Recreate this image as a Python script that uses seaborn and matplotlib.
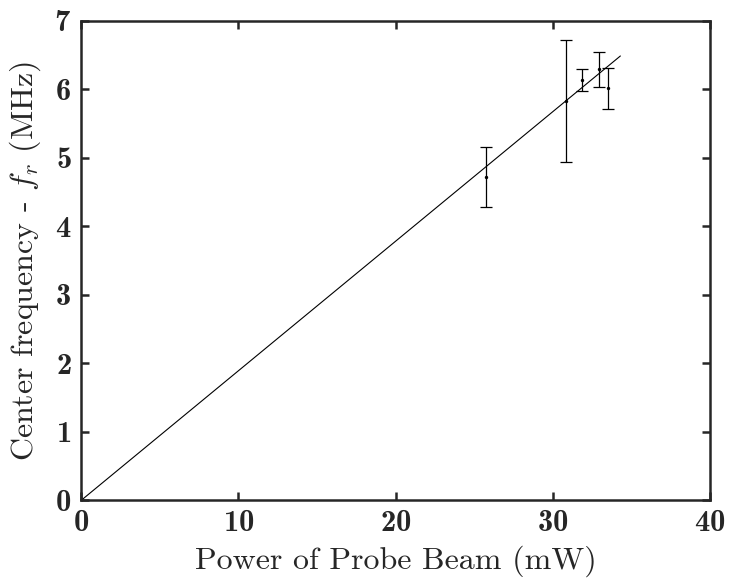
import numpy as np
import matplotlib
matplotlib.use("Agg")
import matplotlib.pyplot as plt
import seaborn as sns

# Measured center frequency vs probe power
power_mw = [25.76, 30.86, 31.88, 32.92, 33.51]
center_freq = [4.72, 5.82, 6.13, 6.29, 6.01]
freq_err = [0.435, 0.89, 0.16, 0.255, 0.30]

# Linear fit through the origin
fit_slope = 0.189
fit_x = [0.0, 34.3]

sns.set_style("ticks")
plt.rcParams["mathtext.fontset"] = "cm"
plt.rcParams["font.family"] = ["cmr10", "DejaVu Serif"]
plt.rcParams["axes.formatter.use_mathtext"] = True

fig = plt.figure(figsize=(7.3, 5.81), dpi=100)
ax = fig.add_axes([0.111, 0.1386, 0.8616, 0.8261])

fit_y = [fit_slope * x for x in fit_x]
sns.lineplot(x=fit_x, y=fit_y, ax=ax, color="black", linewidth=0.8)

ax.errorbar(power_mw, center_freq, yerr=freq_err, fmt="none",
            ecolor="black", elinewidth=0.9, capsize=4, capthick=0.9)
sns.scatterplot(x=power_mw, y=center_freq, ax=ax, color="black",
                s=6, edgecolor="black", linewidth=0, zorder=3)

ax.set_xlim(0, 40)
ax.set_ylim(0, 7)
ax.set_xticks([0, 10, 20, 30, 40])
ax.set_yticks(range(8))

ax.tick_params(direction="in", length=6, width=1.8, top=True, right=True,
               labelsize=22, pad=7)
for lbl in ax.get_xticklabels() + ax.get_yticklabels():
    lbl.set_family("cmb10")

for spine in ax.spines.values():
    spine.set_linewidth(1.8)
    spine.set_color("#262626")

ax.set_xlabel("Power of Probe Beam (mW)", fontsize=23, labelpad=6, color="#262626")
ax.set_ylabel("Center frequency - $f_r$ (MHz)", fontsize=23, labelpad=8, color="#262626")

fig.savefig("out.png", dpi=100)
